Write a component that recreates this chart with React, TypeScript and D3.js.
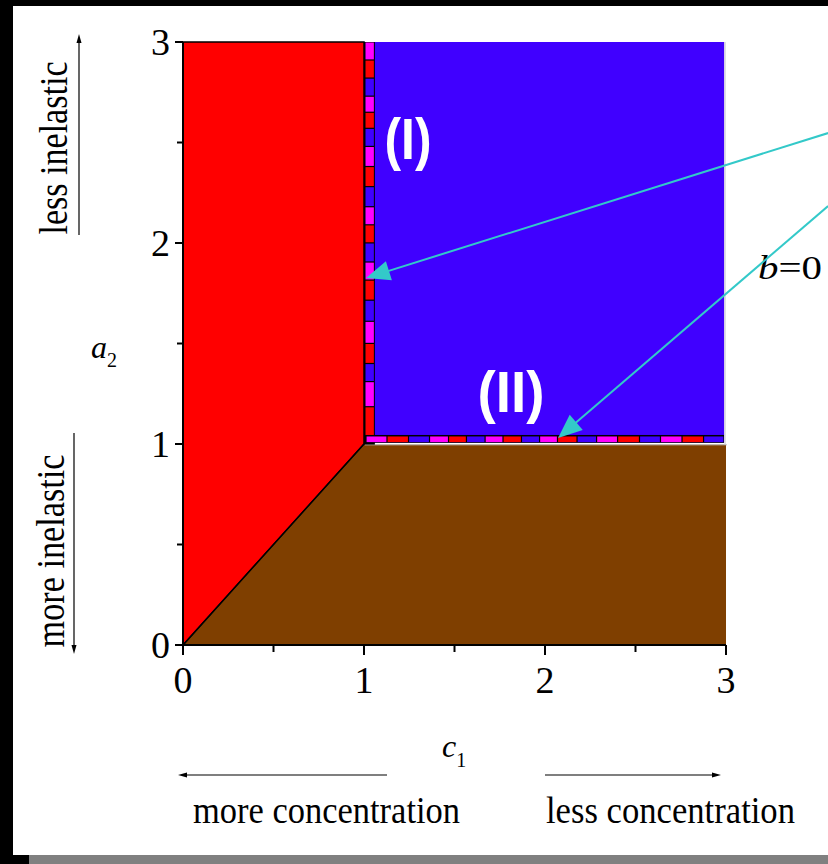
import React from "react";
import * as d3 from "d3";

// ---- data ----
const xTicks = [0, 1, 2, 3];
const yTicks = [0, 1, 2, 3];
const minorTicks = [0.5, 1.5, 2.5];

const redRegion: [number, number][] = [[0, 0], [0, 3], [1, 3], [1, 1]];
const brownRegion: [number, number][] = [[0, 0], [1, 1], [3, 1], [3, 0]];
const blueRegion: [number, number][] = [[1, 1.006], [1, 3], [2.99, 3], [2.99, 1.006]];

// boundary line I (vertical strip at c1≈1), cell edges along a2
const stripIBreaks = [3.0, 2.91, 2.82, 2.73, 2.65, 2.57, 2.48, 2.38, 2.28, 2.18, 2.09, 2.0, 1.905, 1.815, 1.715, 1.61, 1.5, 1.4, 1.31, 1.185, 1.04];
const stripIRange = [1.0, 1.06];
// boundary line II (horizontal strip at a2≈1), cell edges along c1
const stripIIBreaks = [1.011, 1.127, 1.246, 1.362, 1.467, 1.566, 1.669, 1.768, 1.87, 1.97, 2.069, 2.177, 2.285, 2.401, 2.522, 2.638, 2.757, 2.876, 2.989];
const stripIIRange = [1.006, 1.04];
const stripColors = ["#FF00FF", "#FF0000", "#4000FF"];

// cyan pointer arrows: [startC1, startA2, endC1, endA2]
const pointers = [
  [3.564, 2.547, 1.011, 1.826],
  [3.564, 2.184, 2.072, 1.03],
];

const W = 828;
const H = 864;

export default function App() {
  const x = d3.scaleLinear().domain([0, 3]).range([183, 726]);
  const y = d3.scaleLinear().domain([0, 3]).range([645, 42]);
  const line = d3.line<[number, number]>().x((d) => x(d[0])).y((d) => y(d[1]));
  const poly = (pts: [number, number][]) => line(pts) + "Z";

  const serif = "Liberation Serif, DejaVu Serif, serif";
  const sans = "Liberation Sans, Arial, sans-serif";

  const arrowHead = (x1: number, y1: number, x2: number, y2: number, len: number, hw: number) => {
    const dx = x2 - x1, dy = y2 - y1;
    const L = Math.hypot(dx, dy);
    const ux = dx / L, uy = dy / L;
    const bx = x2 - ux * len, by = y2 - uy * len;
    return `M${x2},${y2}L${bx - uy * hw},${by + ux * hw}L${bx + uy * hw},${by - ux * hw}Z`;
  };

  return (
    <svg
      width={W}
      height={H}
      style={{ position: "absolute", left: 0, top: 0, background: "#fff" }}
    >
      {/* frame */}
      <rect x={0} y={0} width={W} height={6} fill="#000" />
      <rect x={0} y={0} width={13} height={H} fill="#000" />
      <rect x={0} y={855} width={29} height={9} fill="#000" />
      <rect x={29} y={855} width={W - 29} height={9} fill="#808080" />

      {/* regions */}
      <path d={poly(brownRegion)} fill="#7F3F00" />
      <path d={poly(blueRegion)} fill="#4000FF" />
      <path d={poly(redRegion)} fill="#FF0000" stroke="#000" strokeWidth={1.5} />
      {/* white gap + light line between strip II and brown */}
      <rect
        x={x(1.005)}
        y={y(1.006)}
        width={x(3) - x(1.005)}
        height={y(0.997) - y(1.006)}
        fill="#fff"
      />
      <line x1={x(1.005)} x2={x(3.005)} y1={y(0.996)} y2={y(0.996)} stroke="#bbb" strokeWidth={1} />
      <line x1={x(2.995)} x2={x(2.995)} y1={y(3)} y2={y(0.996)} stroke="#ccc" strokeWidth={1} />

      {/* strip I */}
      <rect
        x={x(stripIRange[0])}
        y={y(3)}
        width={x(stripIRange[1]) - x(stripIRange[0])}
        height={y(0.997) - y(3)}
        fill="#000"
      />
      {stripIBreaks.slice(0, -1).map((b, i) => (
        <rect
          key={"s1" + i}
          x={x(stripIRange[0]) + 1.5}
          y={y(b) + 0.5}
          width={x(stripIRange[1]) - x(stripIRange[0]) - 2.5}
          height={y(stripIBreaks[i + 1]) - y(b) - 1.2}
          fill={stripColors[i % 3]}
        />
      ))}
      {/* strip II */}
      <rect
        x={x(stripIIBreaks[0]) - 1}
        y={y(stripIIRange[1]) - 1}
        width={x(stripIIBreaks[stripIIBreaks.length - 1]) - x(stripIIBreaks[0]) + 1}
        height={y(stripIIRange[0]) - y(stripIIRange[1]) + 1}
        fill="#000"
      />
      {stripIIBreaks.slice(0, -1).map((b, i) => (
        <rect
          key={"s2" + i}
          x={x(b) + 0.6}
          y={y(stripIIRange[1]) + 0.5}
          width={x(stripIIBreaks[i + 1]) - x(b) - 1.2}
          height={y(stripIIRange[0]) - y(stripIIRange[1]) - 1.2}
          fill={stripColors[i % 3]}
        />
      ))}

      {/* diagonal boundary */}
      <line x1={x(0)} y1={y(0)} x2={x(1)} y2={y(1)} stroke="#000" strokeWidth={1.2} />

      {/* axes */}
      <line x1={x(0)} x2={x(0)} y1={y(3)} y2={y(0) + 1} stroke="#000" strokeWidth={2} />
      <line x1={x(0) - 1} x2={x(3)} y1={y(0)} y2={y(0)} stroke="#000" strokeWidth={2} />
      {xTicks.map((t) => (
        <g key={"xt" + t}>
          <line x1={x(t)} x2={x(t)} y1={y(0)} y2={y(0) + 10} stroke="#000" strokeWidth={2} />
          <text
            x={x(t)}
            y={693}
            textAnchor="middle"
            fontFamily={serif}
            fontSize={38}
            fill="#000"
          >
            {t}
          </text>
        </g>
      ))}
      {minorTicks.map((t) => (
        <line key={"xm" + t} x1={x(t)} x2={x(t)} y1={y(0)} y2={y(0) + 7} stroke="#000" strokeWidth={2} />
      ))}
      {yTicks.map((t) => (
        <g key={"yt" + t}>
          <line x1={x(0) - 8} x2={x(0)} y1={y(t)} y2={y(t)} stroke="#000" strokeWidth={2} />
          <text
            x={170}
            y={y(t) + 13}
            textAnchor="end"
            fontFamily={serif}
            fontSize={38}
            fill="#000"
          >
            {t}
          </text>
        </g>
      ))}
      {minorTicks.map((t) => (
        <line key={"ym" + t} x1={x(0) - 6} x2={x(0)} y1={y(t)} y2={y(t)} stroke="#000" strokeWidth={2} />
      ))}

      {/* axis titles */}
      <text x={91} y={358} fontFamily={serif} fontSize={32} fontStyle="italic" fill="#000">
        a
        <tspan fontStyle="normal" fontSize={20} dy={9}>
          2
        </tspan>
      </text>
      <text x={442} y={757} fontFamily={serif} fontSize={32} fontStyle="italic" fill="#000">
        c
        <tspan fontStyle="normal" fontSize={20} dy={10}>
          1
        </tspan>
      </text>

      {/* side labels */}
      <text
        transform="translate(67,148) rotate(-90)"
        textAnchor="middle"
        fontFamily={serif}
        fontSize={40}
        textLength={173}
        lengthAdjust="spacingAndGlyphs"
        fill="#000"
      >
        less inelastic
      </text>
      <text
        transform="translate(64,551) rotate(-90)"
        textAnchor="middle"
        fontFamily={serif}
        fontSize={40}
        textLength={193}
        lengthAdjust="spacingAndGlyphs"
        fill="#000"
      >
        more inelastic
      </text>
      <line x1={79} x2={79} y1={235} y2={40} stroke="#000" strokeWidth={1.2} />
      <path d={arrowHead(79, 235, 79, 34, 9, 2.5)} fill="#000" />
      <line x1={74} x2={74} y1={433} y2={647} stroke="#000" strokeWidth={1.2} />
      <path d={arrowHead(74, 433, 74, 654, 9, 2.5)} fill="#000" />

      <line x1={185} x2={387} y1={775} y2={775} stroke="#000" strokeWidth={1.2} />
      <path d={arrowHead(387, 775, 178, 775, 9, 2.5)} fill="#000" />
      <line x1={545} x2={713} y1={775} y2={775} stroke="#000" strokeWidth={1.2} />
      <path d={arrowHead(545, 775, 721, 775, 9, 2.5)} fill="#000" />

      <text
        x={193}
        y={823}
        fontFamily={serif}
        fontSize={38}
        textLength={267}
        lengthAdjust="spacingAndGlyphs"
        fill="#000"
      >
        more concentration
      </text>
      <text
        x={546}
        y={823}
        fontFamily={serif}
        fontSize={38}
        textLength={249}
        lengthAdjust="spacingAndGlyphs"
        fill="#000"
      >
        less concentration
      </text>

      {/* region labels */}
      <text
        x={408}
        y={159}
        textAnchor="middle"
        fontFamily={sans}
        fontWeight="bold"
        fontSize={58}
        textLength={47}
        lengthAdjust="spacingAndGlyphs"
        fill="#fff"
      >
        (I)
      </text>
      <text
        x={511}
        y={412}
        textAnchor="middle"
        fontFamily={sans}
        fontWeight="bold"
        fontSize={58}
        textLength={67}
        lengthAdjust="spacingAndGlyphs"
        fill="#fff"
      >
        (II)
      </text>

      <text
        x={758}
        y={279}
        fontFamily={serif}
        fontSize={34}
        textLength={64}
        lengthAdjust="spacingAndGlyphs"
        fill="#000"
      >
        <tspan fontStyle="italic">b</tspan>=0
      </text>

      {/* cyan pointers */}
      {pointers.map((p, i) => {
        const x1 = x(p[0]), y1 = y(p[1]), x2 = x(p[2]), y2 = y(p[3]);
        const L = Math.hypot(x2 - x1, y2 - y1);
        const ex = x2 - ((x2 - x1) / L) * 18, ey = y2 - ((y2 - y1) / L) * 18;
        return (
          <g key={"p" + i}>
            <line x1={x1} y1={y1} x2={ex} y2={ey} stroke="#33C9C9" strokeWidth={2} />
            <path d={arrowHead(x1, y1, x2, y2, 24, 10)} fill="#33C9C9" />
          </g>
        );
      })}
    </svg>
  );
}
